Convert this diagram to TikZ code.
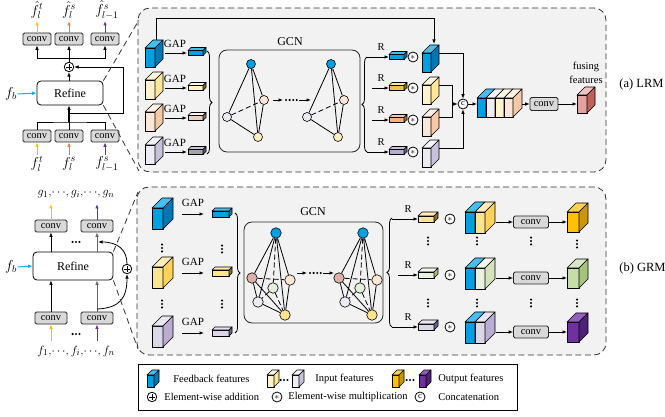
\documentclass[tikz,border=0pt]{standalone}
\usepackage{fontspec}
\setmainfont{Liberation Serif}
\usetikzlibrary{arrows.meta,decorations.pathreplacing,calc}

% palette
\definecolor{panelgray}{HTML}{F2F2F2}
\definecolor{convgray}{HTML}{D9D9D9}
\definecolor{arrYel}{HTML}{FFC000}
\definecolor{arrOra}{HTML}{ED7D31}
\definecolor{arrPur}{HTML}{7030A0}
\definecolor{arrCya}{HTML}{00B0F0}
\definecolor{fbF}{HTML}{00A0E3}
\definecolor{fbT}{HTML}{45BEF2}
\definecolor{fbS}{HTML}{0077B5}
\definecolor{ylF}{HTML}{FFF2CC}
\definecolor{ylT}{HTML}{FFF8E1}
\definecolor{ylS}{HTML}{FFE699}
\definecolor{pcF}{HTML}{FCE6D6}
\definecolor{pcT}{HTML}{FEF1E8}
\definecolor{pcS}{HTML}{F6C8A6}
\definecolor{lvF}{HTML}{EDEBF4}
\definecolor{lvT}{HTML}{F6F5FA}
\definecolor{lvS}{HTML}{C8C1DC}
\definecolor{syF}{HTML}{FFE48F}
\definecolor{syT}{HTML}{FFEDB5}
\definecolor{syS}{HTML}{FFD35A}
\definecolor{slF}{HTML}{DCD7E8}
\definecolor{slT}{HTML}{E9E6F1}
\definecolor{slS}{HTML}{B9ADD3}
\definecolor{gnF}{HTML}{EBF1DE}
\definecolor{gnT}{HTML}{F3F7EC}
\definecolor{gnS}{HTML}{D5E3BC}
\definecolor{ogF}{HTML}{FFC000}
\definecolor{ogT}{HTML}{FFD24D}
\definecolor{ogS}{HTML}{C99700}
\definecolor{ogrF}{HTML}{C5DDA8}
\definecolor{ogrT}{HTML}{D8E8C4}
\definecolor{ogrS}{HTML}{A4C47E}
\definecolor{opF}{HTML}{7030A0}
\definecolor{opT}{HTML}{9460BE}
\definecolor{opS}{HTML}{4F2176}
\definecolor{fuF}{HTML}{E3A29E}
\definecolor{fuT}{HTML}{EFC3C0}
\definecolor{fuS}{HTML}{C0605A}
\definecolor{nRose}{HTML}{DDAFA9}
\definecolor{nGreen}{HTML}{E4EFD9}
\definecolor{nYel}{HTML}{FFE38C}
\definecolor{nYelA}{HTML}{FFF0C2}
\definecolor{bGold}{HTML}{EBC24C}
\definecolor{bGoldS}{HTML}{85702A}
\definecolor{bTan}{HTML}{E9CFBB}
\definecolor{bTanS}{HTML}{7F6A5A}
\definecolor{bGray}{HTML}{A3A3AE}
\definecolor{bGrayS}{HTML}{55555E}
\definecolor{bOra}{HTML}{F4B183}
\definecolor{bOraS}{HTML}{A8703F}
\definecolor{bLav}{HTML}{B6ACD2}
\definecolor{bLavS}{HTML}{6C6490}
\definecolor{bPale}{HTML}{FFF0C4}
\definecolor{bPaleS}{HTML}{6E6450}

% cuboid: x y (front top-left), width, height, depth, front, top, side
\newcommand{\cuboid}[8]{%
  \filldraw[fill=#6] (#1,#2) rectangle ++(#3,#4);
  \filldraw[fill=#7] (#1,#2) -- ++(#5,-#5) -- ++(#3,0) -- ++(-#5,#5) -- cycle;
  \filldraw[fill=#8] ({#1+#3},#2) -- ++(#5,-#5) -- ++(0,#4) -- ++(-#5,#5) -- cycle;
}
% three stacked dots / three dots in a row / four dots in a row
\newcommand{\vdts}[2]{\foreach \k in {-1,0,1}{\fill ({#1},{#2+3.4*\k}) circle (1.15pt);}}
\newcommand{\hdts}[2]{\foreach \k in {-1,0,1}{\fill ({#1+3.4*\k},{#2}) circle (1.15pt);}}
\newcommand{\fdts}[2]{\foreach \k in {0,1,2,3}{\fill ({#1+3.6*\k},{#2}) circle (1.15pt);}}

\begin{document}
\begin{tikzpicture}[x=1pt,y=-1pt,
  >={Latex[length=4.5pt,width=3.6pt]},
  line width=0.8pt,
  convbox/.style={draw=black!85,fill=convgray,rounded corners=1.5pt,minimum width=28pt,minimum height=12pt,inner sep=0pt,font=\fontsize{10.5}{11}\selectfont},
  refinebox/.style={draw,fill=white,rounded corners=4pt,inner sep=0pt,font=\fontsize{12}{13}\selectfont},
  mlbl/.style={inner sep=0.5pt,font=\fontsize{14}{15}\selectfont},
  seqlbl/.style={inner sep=0.5pt,font=\fontsize{12.5}{13}\selectfont},
  lbl/.style={inner sep=0pt,font=\fontsize{10.5}{11}\selectfont},
  gaplbl/.style={inner sep=0pt,font=\fontsize{11}{12}\selectfont},
  panel/.style={draw=black!80,dash pattern=on 6pt off 3.5pt,fill=panelgray,rounded corners=12pt},
  leader/.style={draw=black!80,dash pattern=on 6pt off 4pt},
  gcnbox/.style={draw=black!85,rounded corners=8pt,inner sep=0pt},
  gnode/.style={circle,draw,minimum size=9pt,inner sep=0pt,line width=0.6pt},
  oplus/.style={circle,draw,fill=white,minimum size=9.5pt,inner sep=0pt,
    path picture={\draw[line width=0.9pt] ($(path picture bounding box.center)+(-2.6pt,0)$) -- ++(5.2pt,0)
      ($(path picture bounding box.center)+(0,-2.6pt)$) -- ++(0,5.2pt);}},
  omul/.style={circle,draw,fill=white,minimum size=10pt,inner sep=0pt,font=\fontsize{9}{9}\selectfont},
  ocat/.style={circle,draw,fill=white,minimum size=10pt,inner sep=0pt,font=\fontsize{8.5}{8.5}\selectfont},
  cube/.style={line width=0.6pt,line join=round},
  brc/.style={decorate,decoration={brace,amplitude=5pt}}
]
\useasboundingbox (0,0) rectangle (665,417);

%================ (a) LRM =================
\draw[panel] (138,8) rectangle (606,172);
\coordinate (patl) at (139,20);
\coordinate (pabl) at (139,171);
\node[inner sep=0pt,anchor=west,font=\fontsize{12.5}{13}\selectfont] (capA) at (619,84) {(a) LRM};

% outer block
\node[convbox] (ca1) at (37,39) {conv};
\node[convbox] (ca2) at (69,39) {conv};
\node[convbox] (ca3) at (105,39) {conv};
\node[mlbl] (oa1) at (37,10) {$\hat{f}_l^t$};
\node[mlbl] (oa2) at (69,10) {$\hat{f}_l^s$};
\node[mlbl] (oa3) at (107,10) {$\hat{f}_{l-1}^s$};
\coordinate (oa1e) at (37,21);
\coordinate (oa2e) at (69,21);
\coordinate (oa3e) at (105,21);
\draw[->,arrYel,line width=1pt] (ca1.north) -- (oa1e);
\draw[->,arrOra,line width=1pt] (ca2.north) -- (oa2e);
\draw[->,arrPur,line width=1pt] (ca3.north) -- (oa3e);
\node[oplus] (pa) at (69,67) {};
\node[refinebox,minimum width=66pt,minimum height=24pt] (ra) at (70,93) {Refine};
\coordinate (ta) at (69,58);
\draw (pa.north) -- (ta);
\draw[->] (ta) -| (ca1.south);
\draw[->] (ta) -| (ca3.south);
\draw[->] (ta) -- (ca2.south);
\draw[->] (ra.north -| pa.south) -- (pa.south);
\node[convbox] (cb1) at (37,136) {conv};
\node[convbox] (cb2) at (69,136) {conv};
\node[convbox] (cb3) at (105,136) {conv};
\coordinate (ba) at (69,122);
\draw (cb1.north) |- (ba) -| (cb3.north);
\draw (cb2.north) -- (ba);
\draw[->,line width=1.2pt] (ba) -- (ra.south -| ba);
\coordinate (sa) at (69,113);
\coordinate (ka) at (123,113);
\draw[->] (sa) -- (ka) |- (pa.east);
\node[mlbl] (ia1) at (37,164) {$f_l^t$};
\node[mlbl] (ia2) at (69,164) {$f_l^s$};
\node[mlbl] (ia3) at (107,164) {$f_{l-1}^s$};
\coordinate (ia1s) at (37,155);
\coordinate (ia2s) at (69,155);
\coordinate (ia3s) at (105,155);
\draw[->,arrYel,line width=1pt] (ia1s) -- (cb1.south);
\draw[->,arrOra,line width=1pt] (ia2s) -- (cb2.south);
\draw[->,arrPur,line width=1pt] (ia3s) -- (cb3.south);
\node[mlbl] (fba) at (11,94) {$f_b$};
\draw[->,arrCya,line width=1pt] (fba.east) -- (ra.west);
\draw[leader] (ra.north east) -- (patl);
\draw[leader] (ra.south east) -- (pabl);

% feature cubes and GAP
\begin{scope}[cube]
\cuboid{145}{48}{10}{19}{8}{fbF}{fbT}{fbS}
\cuboid{145}{80}{10}{19}{8}{ylF}{ylT}{ylS}
\cuboid{145}{112}{10}{19}{8}{pcF}{pcT}{pcS}
\cuboid{145}{145}{10}{19}{8}{lvF}{lvT}{lvS}
\cuboid{188}{50.5}{15}{5}{3}{fbF}{fbT}{fbS}
\cuboid{188}{85.5}{15}{5}{3}{bPale}{ylT}{bPaleS}
\cuboid{188}{115.5}{15}{5}{3}{bTan}{pcT}{bTanS}
\cuboid{188}{149.5}{15}{5}{3}{bGray}{lvS}{bGrayS}
\end{scope}
\foreach \yy [count=\n] in {53,88,118,152}{
  \node[gaplbl] (gapa\n) at (175,{\yy-9}) {GAP};
  \coordinate (gsa\n) at (165,\yy);
  \coordinate (gea\n) at (187,\yy);
  \draw[->] (gsa\n) -- (gea\n);
}
\coordinate (fbsrc) at (156,40);
\coordinate (fbdst) at (434,44);
\draw[->] (fbsrc) -- (fbsrc |- 0,18) -| (fbdst);
\draw[brc] (207,51) -- (207,154);

% GCN (a)
\node[gcnbox,minimum width=141pt,minimum height=102pt] (gcnA) at (289.5,101) {};
\node[inner sep=0pt,font=\fontsize{12}{13}\selectfont] (gcnAl) at (290,42) {GCN};
\foreach \dx/\s in {0/p,80/q}{
  \node[gnode,fill=fbF] (A\s) at ({251+\dx},64) {};
  \node[gnode,fill=pcF] (B\s) at ({264+\dx},100) {};
  \node[gnode,fill=lvF] (C\s) at ({227+\dx},117) {};
  \node[gnode,fill=nYelA] (D\s) at ({258+\dx},137) {};
  \draw (A\s) -- (C\s) (A\s) -- (D\s) (A\s) -- (B\s) (B\s) -- (D\s) (C\s) -- (D\s);
  \draw[dash pattern=on 5pt off 3pt] (C\s) -- (B\s);
}
\coordinate (da1) at (273,100); \coordinate (da2) at (283,100);
\coordinate (da3) at (299,100); \coordinate (da4) at (311,100);
\draw[->] (da1) -- (da2);
\fdts{286}{100}
\draw[->] (da3) -- (da4);

% reshape branch
\draw[brc] (367,152) -- (367,57);
\begin{scope}[cube]
\cuboid{389}{54.5}{15}{5}{3}{fbF}{fbT}{fbS}
\cuboid{389}{85.5}{15}{5}{3}{bGold}{ylS}{bGoldS}
\cuboid{389}{117.5}{15}{5}{3}{bOra}{pcS}{bOraS}
\cuboid{389}{149.5}{15}{5}{3}{bLav}{lvS}{bLavS}
\cuboid{422}{53}{9}{19}{8}{fbF}{fbT}{fbS}
\cuboid{422}{85}{9}{19}{8}{ylF}{ylT}{ylS}
\cuboid{422}{117}{9}{19}{8}{pcF}{pcT}{pcS}
\cuboid{422}{148}{9}{19}{8}{lvF}{lvT}{lvS}
\end{scope}
\foreach \yy/\xs [count=\n] in {57/367,88/372,120/372,152/367}{
  \node[lbl] (rla\n) at (381,{\yy-10}) {R};
  \coordinate (rsa\n) at (\xs,\yy);
  \coordinate (rea\n) at (389,\yy);
  \draw[->] (rsa\n) -- (rea\n);
  \node[omul] (ma\n) at (413,\yy) {$\ast$};
}

% concatenation
\node[ocat] (catA) at (463,104) {c};
\coordinate (jy) at (452,104);
\draw[->] (439,53) -| (catA.north);
\draw (439,85) -| (jy);
\draw (439,117) -| (jy);
\draw[->] (jy) -- (catA.west);
\draw[->] (439,148) -| (catA.south);
\begin{scope}[cube]
\cuboid{477}{98}{9}{19}{9}{fbF}{fbT}{fbS}
\cuboid{486}{98}{9}{19}{9}{lvF}{lvT}{lvS}
\cuboid{495}{98}{9}{19}{9}{ylF}{ylT}{ylS}
\cuboid{504}{98}{9}{19}{9}{pcF}{pcT}{pcS}
\cuboid{577}{95}{10}{18}{8}{fuF}{fuT}{fuS}
\end{scope}
\coordinate (stkin) at (477,104);
\coordinate (stkout) at (522,104);
\coordinate (fuin) at (577,104);
\draw[->] (catA.east) -- (stkin);
\node[convbox,minimum height=13pt] (cf) at (544,104) {conv};
\draw[->] (stkout) -- (cf.west);
\draw[->] (cf.east) -- (fuin);
\node[lbl] (fus1) at (586,67) {fusing};
\node[lbl] (fus2) at (586,80) {features};

%================ (b) GRM =================
\draw[panel] (137,187) rectangle (606,355);
\coordinate (pbtl) at (138,192);
\coordinate (pbbl) at (138,349);
\node[inner sep=0pt,anchor=west,font=\fontsize{12.5}{13}\selectfont] (capB) at (619,268) {(b) GRM};

\node[seqlbl] (go) at (76,194) {$g_1,\!\cdots\!,g_i,\!\cdots\!,g_n$};
\node[convbox,minimum width=32pt] (cc1) at (51,226) {conv};
\node[convbox,minimum width=32pt] (cc2) at (97,226) {conv};
\coordinate (go1) at (51,204);
\coordinate (go2) at (97,204);
\draw[->,arrYel,line width=1pt] (cc1.north) -- (go1);
\draw[->,arrPur,line width=1pt] (cc2.north) -- (go2);
\hdts{76}{242}
\node[refinebox,minimum width=80pt,minimum height=28pt] (rb) at (73,266) {Refine};
\draw[->] (rb.north -| cc1.south) -- (cc1.south);
\draw[->,black!60] (rb.north -| cc2.south) -- (cc2.south);
\node[convbox,minimum width=32pt] (cc3) at (51,318) {conv};
\node[convbox,minimum width=32pt] (cc4) at (97,318) {conv};
\draw[->] (cc3.north) -- (cc3.north |- rb.south);
\draw[->,black!60] (cc4.north) -- (cc4.north |- rb.south);
\coordinate (gi1) at (51,341);
\coordinate (gi2) at (97,341);
\draw[->,arrYel,line width=1pt] (gi1) -- (cc3.south);
\draw[->,arrPur,line width=1pt] (gi2) -- (cc4.south);
\hdts{76}{334}
\node[seqlbl] (gin) at (76,351) {$f_1,\!\cdots\!,f_i,\!\cdots\!,f_n$};
\node[oplus] (pb) at (127,269) {};
\coordinate (sb) at (97,309);
\coordinate (eb) at (98,242);
\draw[->] (sb) .. controls (120,308) and (127,298) .. (pb.south);
\draw[->] (pb.north) .. controls (127,250) and (118,242) .. (eb);
\node[mlbl] (fbb) at (11,267) {$f_b$};
\draw[->,arrCya,line width=1pt] (fbb.east) -- (rb.west);
\draw[leader] (rb.north east) -- (pbtl);
\draw[leader] (rb.south east) -- (pbbl);

\begin{scope}[cube]
\cuboid{152}{208}{11}{21}{10}{fbF}{fbT}{fbS}
\cuboid{152}{267}{11}{21}{10}{syF}{syT}{syS}
\cuboid{152}{326}{11}{21}{10}{slF}{slT}{slS}
\cuboid{212}{211}{17}{6}{3}{fbF}{fbT}{fbS}
\cuboid{212}{270}{17}{6}{3}{syF}{syT}{bGoldS}
\cuboid{212}{330}{17}{6}{3}{slF}{slT}{bLavS}
\end{scope}
\vdts{162}{248}
\vdts{162}{304}
\vdts{222}{249}
\vdts{222}{304}
\foreach \yy [count=\n] in {214,273,333}{
  \node[gaplbl] (gapb\n) at (193,{\yy-11}) {GAP};
  \coordinate (gsb\n) at (182,\yy);
  \coordinate (geb\n) at (204,\yy);
  \draw[->] (gsb\n) -- (geb\n);
}
\draw[brc] (235,213) -- (235,333);

% GCN (b)
\node[gcnbox,minimum width=139pt,minimum height=101pt] (gcnB) at (313.5,272.5) {};
\node[inner sep=0pt,font=\fontsize{12}{13}\selectfont] (gcnBl) at (313,212) {GCN};
\foreach \dx/\s in {0/p,87/q}{
  \node[gnode,minimum size=10.5pt,fill=fbF] (G\s) at ({276+\dx},233) {};
  \node[gnode,minimum size=10.5pt,fill=nRose] (R\s) at ({252+\dx},278) {};
  \node[gnode,minimum size=10.5pt,fill=nGreen] (N\s) at ({273+\dx},288) {};
  \node[gnode,minimum size=10.5pt,fill=pcF] (P\s) at ({290+\dx},280) {};
  \node[gnode,minimum size=10.5pt,fill=lvF] (L\s) at ({258+\dx},302) {};
  \node[gnode,minimum size=10.5pt,fill=nYel] (Y\s) at ({285+\dx},315) {};
  \draw (G\s) -- (R\s) (G\s) -- (L\s) (G\s) -- (Y\s) (G\s) -- (P\s)
        (R\s) -- (L\s) (L\s) -- (Y\s) (P\s) -- (Y\s) (R\s) -- (Y\s);
  \draw[dash pattern=on 5pt off 3pt] (G\s) -- (N\s) (R\s) -- (P\s) (N\s) -- (L\s) (N\s) -- (Y\s);
}
\coordinate (db1) at (297,273); \coordinate (db2) at (307,273);
\coordinate (db3) at (323,273); \coordinate (db4) at (334,273);
\draw[->] (db1) -- (db2);
\fdts{310}{273}
\draw[->] (db3) -- (db4);

% reshape, multiply, output
\draw[brc] (392,327) -- (392,218);
\begin{scope}[cube]
\cuboid{418}{216}{16}{6}{4}{syF}{syT}{bGoldS}
\cuboid{418}{272}{16}{6}{4}{gnF}{gnT}{ogrS}
\cuboid{418}{324}{16}{6}{4}{slF}{slT}{bLavS}
\cuboid{465}{212}{10}{21}{10}{fbF}{fbT}{fbS}
\cuboid{475}{212}{10}{21}{10}{syF}{syT}{syS}
\cuboid{465}{268}{10}{21}{10}{fbF}{fbT}{fbS}
\cuboid{475}{268}{10}{21}{10}{gnF}{gnT}{gnS}
\cuboid{465}{322}{10}{21}{10}{fbF}{fbT}{fbS}
\cuboid{475}{322}{10}{21}{10}{slF}{slT}{slS}
\cuboid{567}{212}{12}{20}{9}{ogF}{ogT}{ogS}
\cuboid{567}{268}{12}{20}{9}{ogrF}{ogrT}{ogrS}
\cuboid{567}{322}{12}{20}{9}{opF}{opT}{opS}
\end{scope}
\foreach \yy/\xs/\yc [count=\n] in {219/392/222,275/398/278,327/392/332}{
  \node[lbl] (rlb\n) at (408,{\yy-10}) {R};
  \coordinate (rsb\n) at (\xs,\yy);
  \coordinate (reb\n) at (418,\yy);
  \draw[->] (rsb\n) -- (reb\n);
  \node[omul] (mb\n) at (450,\yy) {$\ast$};
  \node[convbox,minimum width=35pt] (co\n) at (531,\yc) {conv};
  \coordinate (cps\n) at (496,\yc);
  \coordinate (out\n) at (567,\yc);
  \draw[->] (cps\n) -- (co\n.west);
  \draw[->] (co\n.east) -- (out\n);
}
\foreach \xx in {428,477,531}{\vdts{\xx}{241}\vdts{\xx}{303}}
\vdts{577}{244}
\vdts{577}{303}

%================ legend =================
\node[draw,fill=white,minimum width=379pt,minimum height=46pt,inner sep=0pt] (leg) at (327.5,387) {};
\begin{scope}[cube]
\cuboid{147}{375}{7}{12}{5}{fbF}{fbT}{fbS}
\cuboid{267}{375}{7}{12}{5}{ylF}{ylT}{ylS}
\cuboid{292}{375}{7}{12}{5}{lvF}{lvT}{lvS}
\cuboid{392}{375}{7}{12}{5}{ogF}{ogT}{ogS}
\cuboid{419}{375}{7}{12}{5}{opF}{opT}{opS}
\end{scope}
\hdts{284}{380}
\hdts{410}{380}
\node[lbl,anchor=west] (lfb) at (173,379) {Feedback features};
\node[lbl,anchor=west] (lin) at (315,379) {Input features};
\node[lbl,anchor=west] (lout) at (438,379) {Output features};
\node[oplus] (lp) at (152,397) {};
\node[lbl,anchor=west] (lpt) at (164,397) {Element-wise addition};
\node[omul] (lm) at (277,397) {$\ast$};
\node[lbl,anchor=west] (lmt) at (288,397) {Element-wise multiplication};
\node[ocat] (lc) at (420,397) {c};
\node[lbl,anchor=west] (lct) at (438,397) {Concatenation};
\end{tikzpicture}
\end{document}
